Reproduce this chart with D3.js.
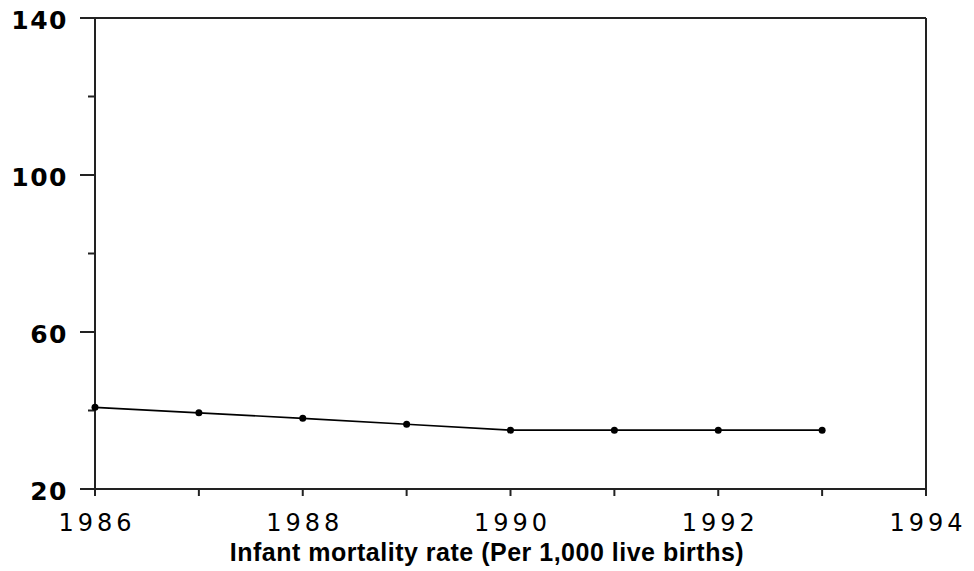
<!DOCTYPE html>
<html><head><meta charset="utf-8">
<script src="https://cdn.jsdelivr.net/npm/d3@7"></script>
<style>body{margin:0;background:#fff}svg{display:block}</style>
</head><body>
<svg id="c" width="974" height="571"></svg>
<script>
const years = [1986, 1987, 1988, 1989, 1990, 1991, 1992, 1993];
const rates = [40.8, 39.4, 38.0, 36.5, 35.0, 35.0, 35.0, 35.0];
const yMajorTicks = [20, 60, 100, 140];
const yMinorTicks = [40, 80, 120];
const xLabelTicks = [1986, 1988, 1990, 1992, 1994];
const xAllTicks = [1986, 1987, 1988, 1989, 1990, 1991, 1992, 1993, 1994];
const title = "Infant mortality rate (Per 1,000 live births)";

const svg = d3.select("#c");
const L = 95, R = 926, T = 18, B = 489;
const x = d3.scaleLinear().domain([1986, 1994]).range([L, R]);
const y = d3.scaleLinear().domain([20, 140]).range([B, T]);
const ink = "#222";

// frame
svg.append("line").attr("x1", L).attr("x2", L).attr("y1", T).attr("y2", B).attr("stroke", ink).attr("stroke-width", 2);
svg.append("line").attr("x1", R).attr("x2", R).attr("y1", T).attr("y2", B + 7).attr("stroke", ink).attr("stroke-width", 2);
svg.append("line").attr("x1", L - 15).attr("x2", R).attr("y1", T).attr("y2", T).attr("stroke", ink).attr("stroke-width", 2);
svg.append("line").attr("x1", L - 15).attr("x2", R).attr("y1", B).attr("y2", B).attr("stroke", ink).attr("stroke-width", 2);

// y ticks
svg.selectAll(".ymaj").data(yMajorTicks).enter().append("line")
  .attr("x1", L - 15).attr("x2", L).attr("y1", d => y(d)).attr("y2", d => y(d))
  .attr("stroke", ink).attr("stroke-width", 2);
svg.selectAll(".ymin").data(yMinorTicks).enter().append("line")
  .attr("x1", L - 7).attr("x2", L).attr("y1", d => y(d)).attr("y2", d => y(d))
  .attr("stroke", ink).attr("stroke-width", 2);
svg.selectAll(".ylab").data(yMajorTicks).enter().append("text")
  .attr("x", 68).attr("y", d => y(d) + 11)
  .attr("text-anchor", "end")
  .attr("font-family", "DejaVu Sans").attr("font-size", 25).attr("font-weight", "bold")
  .attr("letter-spacing", 1.5)
  .attr("fill", "#000").text(d => d);

// x ticks
svg.selectAll(".xt").data(xAllTicks).enter().append("line")
  .attr("x1", d => x(d)).attr("x2", d => x(d)).attr("y1", B).attr("y2", B + 7)
  .attr("stroke", ink).attr("stroke-width", 2);
svg.selectAll(".xlab").data(xLabelTicks).enter().append("text")
  .attr("x", d => x(d) + 2).attr("y", 531)
  .attr("text-anchor", "middle")
  .attr("font-family", "DejaVu Sans").attr("font-size", 24)
  .attr("letter-spacing", 4)
  .attr("fill", "#000").text(d => d);

// line
const pts = years.map((yr, i) => [yr, rates[i]]);
svg.append("path").datum(pts)
  .attr("fill", "none").attr("stroke", "#000").attr("stroke-width", 1.6)
  .attr("d", d3.line().x(d => x(d[0])).y(d => y(d[1])));
svg.selectAll(".pt").data(pts).enter().append("circle")
  .attr("cx", d => x(d[0])).attr("cy", d => y(d[1])).attr("r", 3.5).attr("fill", "#000");

// title
svg.append("text").attr("x", 487).attr("y", 561).attr("text-anchor", "middle")
  .attr("font-family", "Liberation Sans, Arial, sans-serif").attr("font-size", 25).attr("font-weight", "bold")
  .attr("letter-spacing", 0.5)
  .attr("fill", "#000").text(title);
</script>
</body></html>
